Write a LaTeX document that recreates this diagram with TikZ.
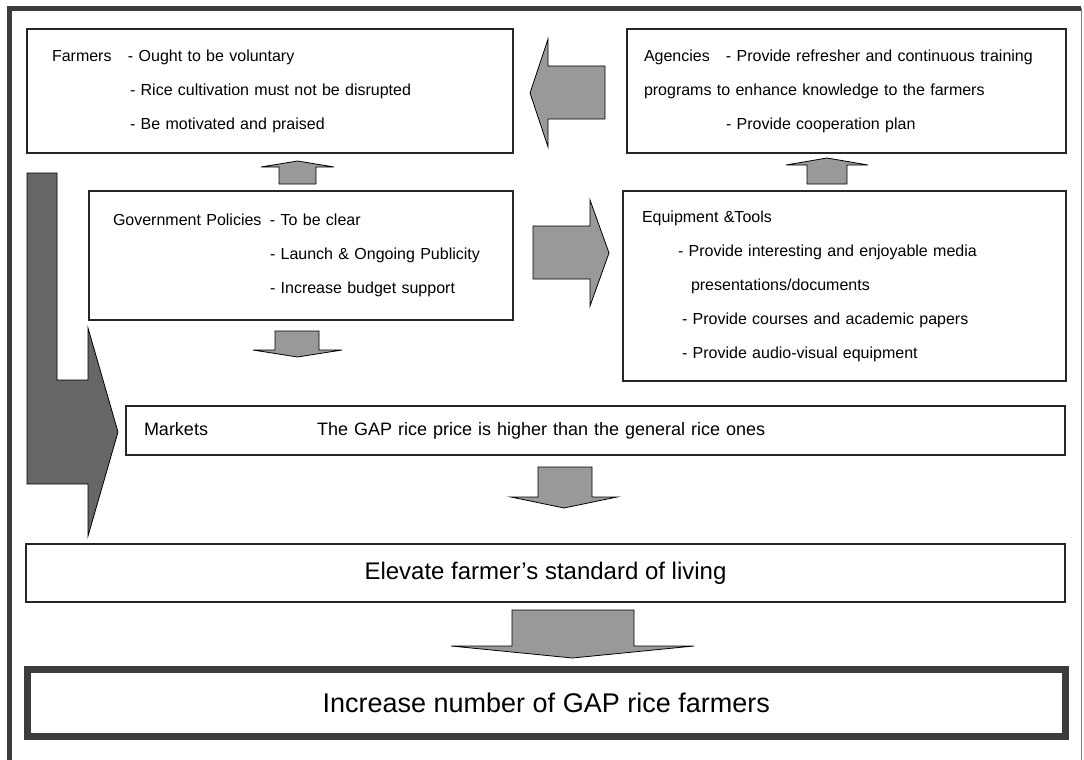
\documentclass[tikz,border=0pt]{standalone}
\usepackage{fontspec}
\setmainfont{Liberation Sans}
\usepackage{tikz}
\usetikzlibrary{positioning}
\definecolor{framegray}{HTML}{3C3C3C}
\definecolor{arrowgray}{HTML}{999999}
\definecolor{bentgray}{HTML}{666666}
\tikzset{
  box/.style={rectangle, draw=black!85, line width=1.2pt, anchor=north west, outer sep=0pt, inner ysep=0pt, align=left, font=\fontsize{16}{34}\selectfont},
  widebox/.style={rectangle, draw=black!85, line width=1.2pt, anchor=north west, outer sep=0pt, inner sep=0pt, align=center},
  blockarrow/.style={draw=black, line width=0.8pt, fill=arrowgray, line join=miter},
  bentarrow/.style={draw=black, line width=0.8pt, fill=bentgray},
  frameline/.style={draw=framegray}
}

\begin{document}
\begin{tikzpicture}[x=1pt, y=-1pt]
    \useasboundingbox (0,0) rectangle (1084,760);

    \draw[frameline, line width=5.5pt] (7,8.5) -- (1081,8.5);
    \draw[frameline, line width=4.5pt] (9.3,6.5) -- (9.3,760);
    \draw[draw=gray, line width=1pt] (1081,8) -- (1081,760);

    \node[box, minimum width=486, minimum height=124, inner xsep=25pt, text width=436pt] (farmers) at (27,29)
        {\makebox[76pt][l]{Farmers}- Ought to be voluntary\\
         \hspace*{78pt}- Rice cultivation must not be disrupted\\
         \hspace*{78pt}- Be motivated and praised};
    \node[box, minimum width=439, minimum height=124, inner xsep=17pt, text width=405pt] (agencies) at (627,29)
        {\makebox[82pt][l]{Agencies}- Provide refresher and continuous training\\
         programs to enhance knowledge to the farmers\\
         \hspace*{82pt}- Provide cooperation plan};
    \node[box, minimum width=424, minimum height=129, inner xsep=24pt, text width=376pt] (govt) at (89,191)
        {\makebox[157pt][l]{Government Policies}- To be clear\\
         \hspace*{157pt}- Launch \& Ongoing Publicity\\
         \hspace*{157pt}- Increase budget support};
    \node[box, minimum width=443, minimum height=190, inner xsep=19pt, text width=405pt] (equip) at (623,191)
        {Equipment \&Tools\\
         \hspace*{36pt}- Provide interesting and enjoyable media\\
         \hspace*{49pt}presentations/documents\\
         \hspace*{40pt}- Provide courses and academic papers\\
         \hspace*{40pt}- Provide audio-visual equipment};
    \node[box, minimum width=939, minimum height=49, inner xsep=18pt, text width=903pt, font=\fontsize{18}{20}\selectfont] (markets) at (126,406)
        {\makebox[173pt][l]{Markets}The GAP rice price is higher than the general rice ones};
    \node[widebox, minimum width=1039, minimum height=58, font=\fontsize{24}{28}\selectfont] (living) at (26,544)
        {Elevate farmer’s standard of living};
    \node[widebox, draw=framegray, line width=7pt, minimum width=1038.5, minimum height=66.5, font=\fontsize{27}{32}\selectfont] (increase) at (27,669.5)
        {Increase number of GAP rice farmers};

    \draw[bentarrow] (27,173) -- (57,173) -- (57,380) -- (88,380) -- (88,328) -- (118,432) -- (88,536) -- (88,484) -- (27,484) -- cycle;
    \draw[blockarrow] (605,66) -- (548,66) -- (548,39) -- (530,93) -- (548,147) -- (548,119) -- (605,119) -- cycle;
    \draw[blockarrow] (279,184) -- (279,167) -- (261,167) -- (297.5,161) -- (334,167) -- (316,167) -- (316,184) -- cycle;
    \draw[blockarrow] (807,184) -- (807,165) -- (786,165) -- (827,158) -- (868,165) -- (847,165) -- (847,184) -- cycle;
    \draw[blockarrow] (533,226) -- (590,226) -- (590,200) -- (609,253) -- (590,306) -- (590,279) -- (533,279) -- cycle;
    \draw[blockarrow] (275,331) -- (319,331) -- (319,350) -- (342,350) -- (297.5,357) -- (253,350) -- (275,350) -- cycle;
    \draw[blockarrow] (538,467) -- (592,467) -- (592,497) -- (617,497) -- (564,508) -- (511,497) -- (538,497) -- cycle;
    \draw[blockarrow] (512,610) -- (634,610) -- (634,646) -- (694,646) -- (572.5,658) -- (451,646) -- (512,646) -- cycle;
\end{tikzpicture}
\end{document}
